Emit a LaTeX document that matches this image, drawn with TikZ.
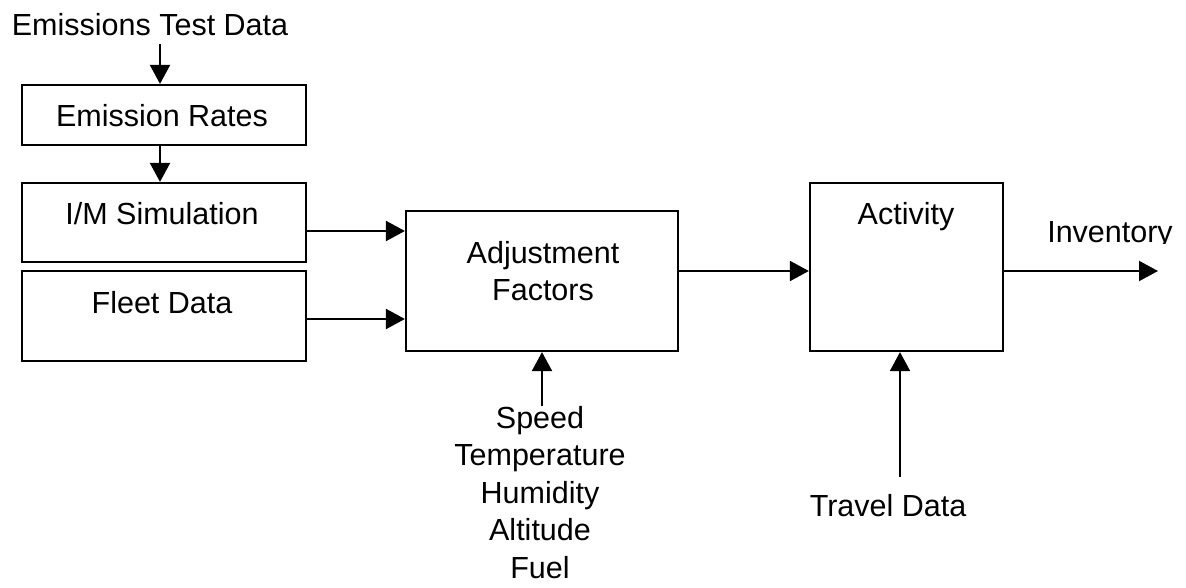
\documentclass[tikz,border=0pt]{standalone}
\usepackage{fontspec}
\setmainfont{Liberation Sans}
\usetikzlibrary{arrows.meta}
\begin{document}
\begin{tikzpicture}[x=1pt,y=1pt,
  every node/.style={font=\fontsize{30.5pt}{37.5pt}\selectfont, inner sep=0pt},
  blk/.style={draw, line width=2.2pt, minimum width=#1, inner sep=0pt},
  lbl/.style={anchor=base},
  arr/.style={line width=2pt, -{Triangle[length=19pt,width=20pt]}}]
\useasboundingbox (0,0) rectangle (1186,-588);
% boxes
\node[blk=284pt, minimum height=60pt] (er) at (164,-115) {};
\node[blk=284pt, minimum height=79pt] (im) at (164,-222.5) {};
\node[blk=284pt, minimum height=90pt] (fd) at (164,-316) {};
\node[blk=272pt, minimum height=140pt] (adj) at (542,-281) {};
\node[blk=193pt, minimum height=168pt] (act) at (906.5,-267) {};
% labels
\node[lbl] (etd) at (150,-36) {Emissions Test Data};
\node[lbl] (erl) at (162,-127) {Emission Rates};
\node[lbl] (iml) at (162,-225) {I/M Simulation};
\node[lbl] (fdl) at (162,-313) {Fleet Data};
\node[anchor=north, align=center] (adjl) at (543,-241) {Adjustment\\Factors};
\node[lbl] (actl) at (906,-225) {Activity};
\node[anchor=north, align=center] (cond) at (540,-406) {Speed\\Temperature\\Humidity\\Altitude\\Fuel};
\node[lbl] (trv) at (888,-516) {Travel Data};
\begin{scope}
\clip (1030,-190) rectangle (1186,-244);
\node[lbl] (inv) at (1110,-243) {Inventory};
\end{scope}
% connector points
\coordinate (p1) at (160,-44);
\coordinate (p2) at (306,-231);
\coordinate (p3) at (306,-319);
\coordinate (p4) at (678,-271);
\coordinate (p5) at (1003,-271);
\coordinate (p6) at (1158,-271);
\coordinate (p7) at (900,-477);
% connectors
\draw[arr] (p1) -- (p1 |- er.north);
\draw[arr] (p1 |- er.south) -- (p1 |- im.north);
\draw[arr] (p2) -- (p2 -| adj.west);
\draw[arr] (p3) -- (p3 -| adj.west);
\draw[arr] (p4) -- (p4 -| act.west);
\draw[arr] (p5) -- (p6);
\draw[arr] (cond.north -| adj.south) -- (adj.south);
\draw[arr] (p7) -- (p7 |- act.south);
\end{tikzpicture}
\end{document}
